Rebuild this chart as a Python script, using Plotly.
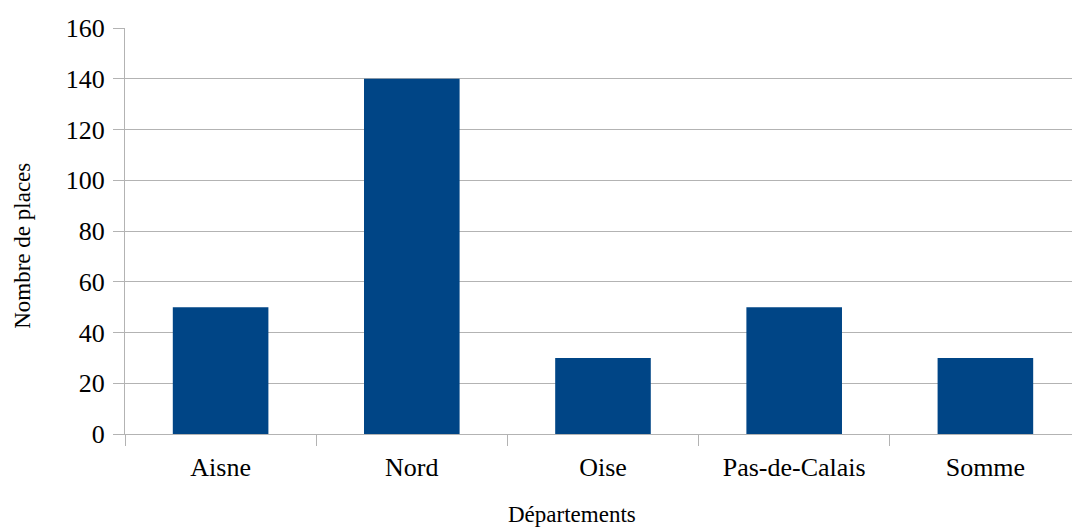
import plotly.graph_objects as go

departements = ["Aisne", "Nord", "Oise", "Pas-de-Calais", "Somme"]
places = [50, 140, 30, 50, 30]
y_ticks = [0, 20, 40, 60, 80, 100, 120, 140, 160]

FONT = "Times New Roman, Liberation Serif, serif"
GRID = "#b3b3b3"

fig = go.Figure(go.Bar(
    x=departements, y=places,
    marker=dict(color="#004586", line=dict(width=0)),
    width=0.5,
))

fig.update_layout(
    width=1072, height=527,
    margin=dict(l=125, r=0, t=28, b=93, autoexpand=False),
    paper_bgcolor="white", plot_bgcolor="white",
    font=dict(family=FONT, color="black"),
    showlegend=False,
    xaxis=dict(
        range=[-0.5, 4.453],
        automargin=False,
        tickson="boundaries",
        ticks="outside", ticklen=11, tickcolor=GRID, tickwidth=1,
        ticklabelstandoff=10,
        showgrid=False,
        showline=True, linecolor=GRID, linewidth=1,
        tickfont=dict(size=26, family=FONT, color="black"),
    ),
    yaxis=dict(
        range=[0, 160],
        automargin=False,
        tickvals=y_ticks,
        ticks="outside", ticklen=11, tickcolor=GRID, tickwidth=1,
        ticklabelstandoff=3,
        showgrid=True, gridcolor=GRID, gridwidth=1,
        showline=True, linecolor=GRID, linewidth=1,
        zeroline=False,
        tickfont=dict(size=26, family=FONT, color="black"),
    ),
    annotations=[
        dict(text="Départements", xref="paper", yref="paper",
             x=0.472, y=-0.199, xanchor="center", yanchor="middle",
             showarrow=False, font=dict(size=23, family=FONT, color="black")),
        dict(text="Nombre de places", xref="paper", yref="paper",
             x=-0.109, y=0.463, xanchor="center", yanchor="middle", textangle=-90,
             showarrow=False, font=dict(size=23, family=FONT, color="black")),
    ],
)

fig.write_html("out.html", config={"displayModeBar": False},
               post_script="document.body.style.margin='0';document.body.style.padding='0';")
